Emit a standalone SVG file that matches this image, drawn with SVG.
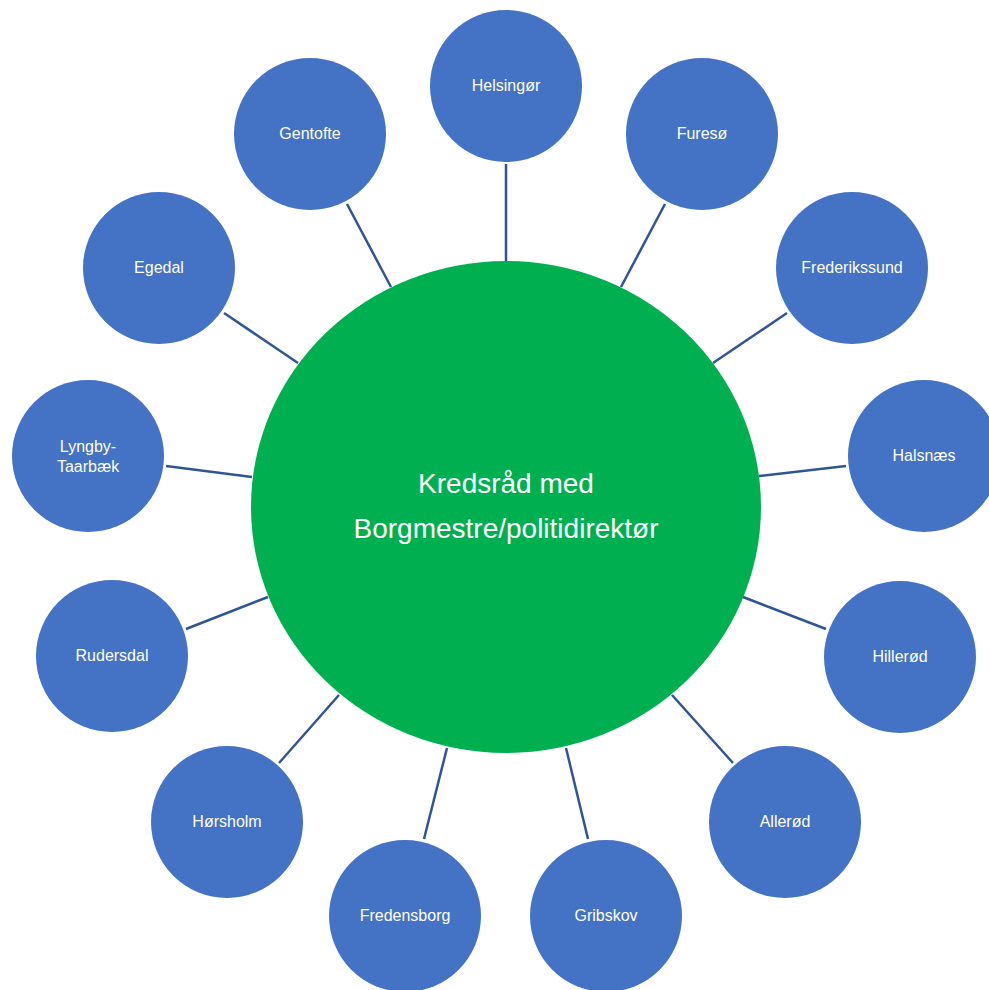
<svg xmlns="http://www.w3.org/2000/svg" width="989" height="990" viewBox="0 0 989 990">
<style>
.sat{fill:#4472C4;}
.hub{fill:#00B050;}
.lbl{fill:#ffffff;font-family:"Liberation Sans",Arial,sans-serif;font-size:16px;text-anchor:middle;}
.hubt{fill:#ffffff;font-family:"Liberation Sans",Arial,sans-serif;font-size:28px;text-anchor:middle;}
.con line{stroke:#2F5597;stroke-width:2.5;stroke-linecap:butt;}
</style>
<rect width="989" height="990" fill="#ffffff"/>
<g id="connectors" class="con">
<line x1="506" y1="164" x2="506" y2="261"/>
<line x1="665" y1="204" x2="621" y2="287"/>
<line x1="787" y1="313" x2="713" y2="363"/>
<line x1="846" y1="466" x2="759" y2="476"/>
<line x1="826" y1="629" x2="743" y2="597"/>
<line x1="733" y1="763" x2="672" y2="695"/>
<line x1="588" y1="839" x2="566" y2="748"/>
<line x1="424" y1="839" x2="447" y2="748"/>
<line x1="279" y1="763" x2="339" y2="695"/>
<line x1="186" y1="629" x2="268" y2="597"/>
<line x1="166" y1="466" x2="252" y2="477"/>
<line x1="224" y1="313" x2="298" y2="363"/>
<line x1="347" y1="204" x2="391" y2="287"/>
</g>
<g id="hub">
<ellipse class="hub" cx="506" cy="507" rx="255" ry="246"/>
<text class="hubt" x="506" y="493">Kredsråd med</text>
<text class="hubt" x="506" y="538">Borgmestre/politidirektør</text>
</g>
<g id="helsingor"><circle class="sat" cx="506" cy="86" r="76"/><text class="lbl" x="506" y="91">Helsingør</text></g>
<g id="fureso"><circle class="sat" cx="702" cy="134" r="76"/><text class="lbl" x="702" y="139">Furesø</text></g>
<g id="frederikssund"><circle class="sat" cx="852" cy="268" r="76"/><text class="lbl" x="852" y="273">Frederikssund</text></g>
<g id="halsnaes"><circle class="sat" cx="924" cy="456" r="76"/><text class="lbl" x="924" y="461">Halsnæs</text></g>
<g id="hillerod"><circle class="sat" cx="900" cy="657" r="76"/><text class="lbl" x="900" y="662">Hillerød</text></g>
<g id="allerod"><circle class="sat" cx="785" cy="822" r="76"/><text class="lbl" x="785" y="827">Allerød</text></g>
<g id="gribskov"><circle class="sat" cx="606" cy="916" r="76"/><text class="lbl" x="606" y="921">Gribskov</text></g>
<g id="fredensborg"><circle class="sat" cx="405" cy="916" r="76"/><text class="lbl" x="405" y="921">Fredensborg</text></g>
<g id="horsholm"><circle class="sat" cx="227" cy="822" r="76"/><text class="lbl" x="227" y="827">Hørsholm</text></g>
<g id="rudersdal"><circle class="sat" cx="112" cy="656" r="76"/><text class="lbl" x="112" y="661">Rudersdal</text></g>
<g id="lyngby"><circle class="sat" cx="88" cy="456" r="76"/><text class="lbl" x="88" y="452">Lyngby-</text><text class="lbl" x="88" y="472">Taarbæk</text></g>
<g id="egedal"><circle class="sat" cx="159" cy="268" r="76"/><text class="lbl" x="159" y="273">Egedal</text></g>
<g id="gentofte"><circle class="sat" cx="310" cy="134" r="76"/><text class="lbl" x="310" y="139">Gentofte</text></g>
</svg>
